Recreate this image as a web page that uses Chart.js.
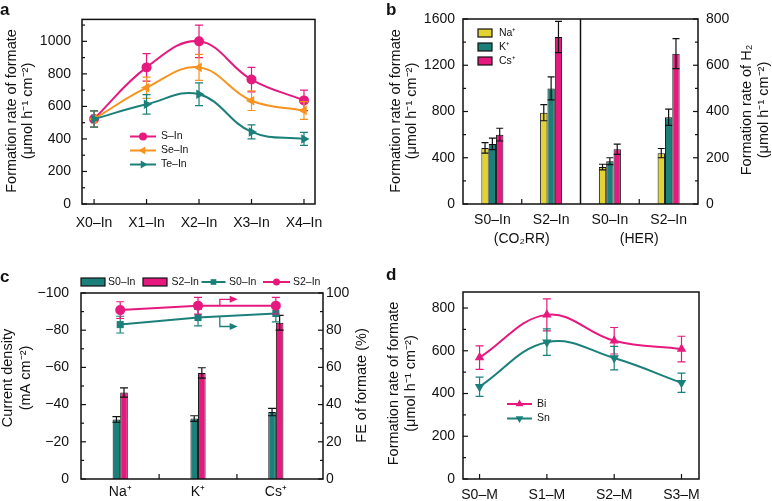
<!DOCTYPE html>
<html>
<head>
<meta charset="utf-8">
<title>Formate formation rates</title>
<script src="https://cdn.jsdelivr.net/npm/chart.js@4.4.1/dist/chart.umd.min.js"></script>
<style>
  html, body { margin: 0; padding: 0; background: #fff; }
  body { position: relative; width: 772px; height: 501px; overflow: hidden; }
  canvas { position: absolute; }
</style>
</head>
<body>
<canvas id="chartA" width="386" height="250" style="left:0;top:0"></canvas>
<canvas id="chartB" width="386" height="250" style="left:386px;top:0"></canvas>
<canvas id="chartC" width="386" height="251" style="left:0;top:250px"></canvas>
<canvas id="chartD" width="386" height="251" style="left:386px;top:250px"></canvas>
<script>
// --- panel a: formation rate vs chalcogen content ---
const catsA = ['X0–In', 'X1–In', 'X2–In', 'X3–In', 'X4–In'];
const sIn = [523, 840, 1000, 765, 637];
const sInErr = [50, 85, 100, 75, 63];
const seIn = [523, 715, 840, 635, 575];
const seInErr = [50, 65, 80, 60, 55];
const teIn = [523, 613, 675, 443, 400];
const teInErr = [50, 60, 70, 43, 40];
const ticksA = [0, 200, 400, 600, 800, 1000];

// --- panel b: cation effect, CO2RR (left axis) and HER (right axis) ---
const catsB = ['S0–In', 'S2–In', 'S0–In', 'S2–In'];
const groupsB = ['(CO₂RR)', '(HER)'];
const ionsB = ['Na⁺', 'K⁺', 'Cs⁺'];
const co2rrNa = [485, 790];   const co2rrNaErr = [45, 70];
const co2rrK = [520, 1000];   const co2rrKErr = [50, 100];
const co2rrCs = [600, 1445];  const co2rrCsErr = [55, 135];
const herNa = [160, 220];     const herNaErr = [12, 20];
const herK = [185, 375];      const herKErr = [15, 35];
const herCs = [237, 650];     const herCsErr = [22, 65];
const ticksB = [0, 400, 800, 1200, 1600];
const ticksB2 = [0, 200, 400, 600, 800];

// --- panel c: current density (bars) and FE (lines) ---
const ionsC = ['Na⁺', 'K⁺', 'Cs⁺'];
const jS0 = [-32, -32.5, -36];    const jS0Err = [1.5, 1.5, 2];
const jS2 = [-46.5, -57, -84];    const jS2Err = [2.5, 2.8, 4];
const feS0 = [83, 86.8, 89];      const feS0Err = [4.5, 4.5, 4.5];
const feS2 = [90.8, 93.2, 93.2];  const feS2Err = [4.5, 4.5, 4.5];
const ticksC = [0, -20, -40, -60, -80, -100];
const ticksC2 = [0, 20, 40, 60, 80, 100];

// --- panel d: Bi / Sn analogues ---
const catsD = ['S0–M', 'S1–M', 'S2–M', 'S3–M'];
const bi = [568, 768, 647, 608];   const biErr = [55, 75, 62, 60];
const sn = [432, 640, 566, 450];   const snErr = [45, 62, 55, 45];
const ticksD = [0, 200, 400, 600, 800];

const PINK = '#E6197F', ORANGE = '#F7931E', TEAL = '#1B8079', YELLOW = '#E3D330', INK = '#111';
const FONT = "'Liberation Sans', Arial, Helvetica, sans-serif";

Chart.defaults.font.family = FONT;
Chart.defaults.font.size = 14;
Chart.defaults.color = INK;

// error bars for a dataset (bars: drawn on top, lines: drawn under the markers)
function drawErrors(chart, meta) {
    const ds = chart.data.datasets[meta.index];
    if (!ds.errors) return;
    const ctx = chart.ctx;
    const ys = chart.scales[meta.yAxisID];
    const cap = (ds.capWidth || 8) / 2;
    ctx.save();
    ctx.strokeStyle = ds.errorColor || ds.borderColor;
    ctx.lineWidth = 1.2;
    meta.data.forEach((el, i) => {
        const p = meta._parsed[i];
        const e = ds.errors[i];
        if (!p || p.y == null || isNaN(p.y) || e == null || isNaN(el.x)) return;
        const y1 = ys.getPixelForValue(p.y + e);
        const y2 = ys.getPixelForValue(p.y - e);
        ctx.beginPath();
        ctx.moveTo(el.x, y1); ctx.lineTo(el.x, y2);
        ctx.moveTo(el.x - cap, y1); ctx.lineTo(el.x + cap, y1);
        ctx.moveTo(el.x - cap, y2); ctx.lineTo(el.x + cap, y2);
        ctx.stroke();
    });
    ctx.restore();
}

function drawMarker(ctx, style, rot, r, x, y) {
    if (Chart.helpers && Chart.helpers.drawPoint) {
        Chart.helpers.drawPoint(ctx, { pointStyle: style, rotation: rot || 0, radius: r, borderWidth: 0 }, x, y);
    } else {
        ctx.beginPath(); ctx.arc(x, y, r, 0, Math.PI * 2); ctx.fill();
    }
}

function drawLegend(ctx, items, size) {
    ctx.font = size + 'px ' + FONT;
    ctx.textBaseline = 'middle';
    ctx.textAlign = 'left';
    items.forEach(it => {
        if (it.kind === 'box') {
            ctx.fillStyle = it.color;
            ctx.fillRect(it.x, it.y - it.h / 2, it.w, it.h);
            ctx.strokeStyle = INK; ctx.lineWidth = 1.2;
            ctx.strokeRect(it.x, it.y - it.h / 2, it.w, it.h);
        } else {
            ctx.strokeStyle = it.color; ctx.lineWidth = 2;
            ctx.beginPath(); ctx.moveTo(it.x, it.y); ctx.lineTo(it.x + it.w, it.y); ctx.stroke();
            ctx.fillStyle = it.color;
            drawMarker(ctx, it.style, it.rot, it.r, it.x + it.w / 2, it.y);
        }
        ctx.fillStyle = INK;
        ctx.fillText(it.label, it.tx, it.y);
    });
}

function drawText(ctx, t) {
    ctx.save();
    ctx.font = (t.bold ? 'bold ' : '') + t.size + 'px ' + FONT;
    ctx.fillStyle = INK;
    ctx.textAlign = t.align || 'center';
    ctx.textBaseline = t.baseline || 'middle';
    ctx.translate(t.x, t.y);
    if (t.rot) ctx.rotate(t.rot * Math.PI / 180);
    ctx.fillText(t.t, 0, 0);
    ctx.restore();
}

// frame, inward ticks, legends, titles
const deco = {
    id: 'deco',
    beforeDatasetDraw(chart, args) { if (args.meta.type === 'line') drawErrors(chart, args.meta); },
    afterDatasetDraw(chart, args) { if (args.meta.type === 'bar') drawErrors(chart, args.meta); },
    afterDraw(chart, args, o) {
        const ctx = chart.ctx, a = chart.chartArea;
        ctx.save();
        ctx.strokeStyle = INK;
        ctx.lineWidth = 1.5;
        ctx.strokeRect(a.left, a.top, a.right - a.left, a.bottom - a.top);

        ctx.lineWidth = 1.2;
        (o.yTicks || []).forEach(t => {
            const s = chart.scales[t.id];
            const vals = s.ticks.map(k => k.value);
            const dir = t.side === 'left' ? 1 : -1;
            const x0 = t.side === 'left' ? a.left : a.right;
            const mark = (v, len) => {
                const y = s.getPixelForValue(v);
                ctx.beginPath(); ctx.moveTo(x0, y); ctx.lineTo(x0 + dir * len, y); ctx.stroke();
            };
            vals.forEach(v => mark(v, 5));
            for (let i = 1; i < vals.length; i++) mark((vals[i - 1] + vals[i]) / 2, 3);
            const step = vals[1] - vals[0];
            const next = vals[vals.length - 1] + step / 2;
            if (next >= Math.min(s.min, s.max) && next <= Math.max(s.min, s.max)) mark(next, 3);
        });
        if (o.xTicks) {
            const s = chart.scales.x;
            o.xTicks.forEach(v => {
                const x = s.getPixelForValue(v);
                ctx.beginPath(); ctx.moveTo(x, a.bottom); ctx.lineTo(x, a.bottom - 5); ctx.stroke();
            });
        }
        if (o.divider != null) {
            const x = chart.scales.x.getPixelForValue(o.divider);
            ctx.lineWidth = 1.5;
            ctx.beginPath(); ctx.moveTo(x, a.top); ctx.lineTo(x, a.bottom); ctx.stroke();
        }
        (o.arrows || []).forEach(ar => {
            const xs = chart.scales.x, ys = chart.scales[ar.axis];
            const x0 = xs.getPixelForValue(ar.x), x1 = xs.getPixelForValue(ar.xTo);
            const y0 = ys.getPixelForValue(ar.yFrom), y1 = ys.getPixelForValue(ar.yTo);
            ctx.strokeStyle = ar.color; ctx.fillStyle = ar.color; ctx.lineWidth = 1.3;
            ctx.beginPath(); ctx.moveTo(x0, y0); ctx.lineTo(x0, y1); ctx.lineTo(x1 - 6, y1); ctx.stroke();
            ctx.beginPath(); ctx.moveTo(x1, y1); ctx.lineTo(x1 - 8, y1 - 3.5); ctx.lineTo(x1 - 8, y1 + 3.5);
            ctx.closePath(); ctx.fill();
        });
        if (o.groupLabels) {
            const g = o.groupLabels;
            g.values.forEach((v, i) => drawText(ctx, { t: g.labels[i], x: chart.scales.x.getPixelForValue(v), y: g.y, size: 14 }));
        }
        if (o.legend) drawLegend(ctx, o.legend.items, o.legend.size);
        (o.texts || []).forEach(t => drawText(ctx, t));
        ctx.restore();
    }
};

// axis boxes get a fixed size so the plot area lands where the layout padding says
function yAxis(pos, min, max, vals, pad, size, fmt, reverse) {
    return {
        type: 'linear', position: pos, min: min, max: max, reverse: !!reverse,
        grid: { display: false, drawTicks: false }, border: { display: false },
        afterBuildTicks: s => { s.ticks = vals.map(v => ({ value: v })); },
        afterFit: s => { s.width = size; },
        ticks: { padding: pad, font: { size: 14 }, callback: fmt || (v => String(v)) }
    };
}

function xLinear(min, max, names, pad, size) {
    return {
        type: 'linear', min: min, max: max, offset: false,
        grid: { display: false, drawTicks: false }, border: { display: false },
        afterBuildTicks: s => { s.ticks = names.map((n, i) => ({ value: i })); },
        afterFit: s => { s.height = size; },
        ticks: { padding: pad, maxRotation: 0, autoSkip: false, font: { size: 14 }, callback: v => names[v] }
    };
}

function lineDs(label, vals, errs, color, style, rot, r, tension, axis) {
    return {
        type: 'line', label: label,
        data: vals.map((v, i) => ({ x: i, y: v })),
        errors: errs, errorColor: color, capWidth: 8,
        borderColor: color, backgroundColor: color, borderWidth: 2,
        pointStyle: style, pointRotation: rot, pointRadius: r, pointBorderWidth: 0,
        pointBackgroundColor: color, tension: tension, yAxisID: axis || 'y'
    };
}

function baseOptions(pad) {
    return {
        responsive: false, animation: false, events: [],
        layout: { padding: pad },
        plugins: { legend: { display: false }, tooltip: { enabled: false } }
    };
}

const titleSize = 14.5;

// ---------- panel a ----------
// plot area: left 82, right 315, top 17, bottom 204
const optA = baseOptions({ left: 37, right: 71, top: 17, bottom: 16 });
optA.scales = {
    x: xLinear(-0.23, 4.21, catsA, 11, 30),
    y: yAxis('left', 0, 1135, ticksA, 11, 45)
};
optA.plugins.deco = {
    yTicks: [{ id: 'y', side: 'left' }],
    xTicks: catsA.map((c, i) => i),
    legend: {
        size: 10.5,
        items: [
            { kind: 'line', label: 'S–In', color: PINK, style: 'circle', r: 4, x: 130, w: 26, y: 136.5, tx: 161 },
            { kind: 'line', label: 'Se–In', color: ORANGE, style: 'triangle', rot: -90, r: 4.5, x: 130, w: 26, y: 150.5, tx: 161 },
            { kind: 'line', label: 'Te–In', color: TEAL, style: 'triangle', rot: 90, r: 4.5, x: 130, w: 26, y: 164.5, tx: 161 }
        ]
    },
    texts: [
        { t: 'a', x: 0, y: 15, size: 17, bold: true, align: 'left', baseline: 'alphabetic' },
        { t: 'Formation rate of formate', x: 12, y: 111, rot: -90, size: titleSize },
        { t: '(μmol h⁻¹ cm⁻²)', x: 28, y: 111, rot: -90, size: titleSize }
    ]
};
new Chart(document.getElementById('chartA'), {
    type: 'line',
    data: {
        datasets: [
            lineDs('Te–In', teIn, teInErr, TEAL, 'triangle', 90, 5.5, 0.4),
            lineDs('Se–In', seIn, seInErr, ORANGE, 'triangle', -90, 5.5, 0.4),
            lineDs('S–In', sIn, sInErr, PINK, 'circle', 0, 5, 0.4)
        ]
    },
    options: optA,
    plugins: [deco]
});

// ---------- panel b ----------
function barB(label, vals, errs, color, axis) {
    return {
        type: 'bar', label: label, data: vals, errors: errs, errorColor: INK, capWidth: 7,
        backgroundColor: color, borderColor: INK, borderWidth: 1, yAxisID: axis,
        categoryPercentage: 0.375, barPercentage: 1, skipNull: true
    };
}
// plot area: left 77, right 312, top 19, bottom 204
const optB = baseOptions({ left: 32, right: 29, top: 19, bottom: 16 });
optB.scales = {
    x: {
        type: 'category', offset: true,
        grid: { display: false, drawTicks: false }, border: { display: false },
        afterFit: s => { s.height = 30; },
        ticks: { padding: 8, maxRotation: 0, autoSkip: false, font: { size: 14 } }
    },
    y: yAxis('left', 0, 1600, ticksB, 8, 45),
    y2: yAxis('right', 0, 800, ticksB2, 8, 45)
};
optB.plugins.deco = {
    yTicks: [{ id: 'y', side: 'left' }, { id: 'y2', side: 'right' }],
    xTicks: [0.5, 2.5],
    divider: 1.5,
    groupLabels: { values: [0.5, 2.5], labels: groupsB, y: 239 },
    legend: {
        size: 10.5,
        items: [
            { kind: 'box', label: ionsB[0], color: YELLOW, x: 92, w: 14, h: 8, y: 33, tx: 113 },
            { kind: 'box', label: ionsB[1], color: TEAL, x: 92, w: 14, h: 8, y: 47, tx: 113 },
            { kind: 'box', label: ionsB[2], color: PINK, x: 92, w: 14, h: 8, y: 61, tx: 113 }
        ]
    },
    texts: [
        { t: 'b', x: 0, y: 15, size: 17, bold: true, align: 'left', baseline: 'alphabetic' },
        { t: 'Formation rate of formate', x: 10, y: 111, rot: -90, size: titleSize },
        { t: '(μmol h⁻¹ cm⁻²)', x: 26, y: 111, rot: -90, size: titleSize },
        { t: 'Formation rate of H₂', x: 361, y: 110, rot: -90, size: titleSize },
        { t: '(μmol h⁻¹ cm⁻²)', x: 377.5, y: 110, rot: -90, size: titleSize }
    ]
};
new Chart(document.getElementById('chartB'), {
    type: 'bar',
    data: {
        labels: catsB,
        datasets: [
            barB(ionsB[0], [...co2rrNa, null, null], [...co2rrNaErr, null, null], YELLOW, 'y'),
            barB(ionsB[1], [...co2rrK, null, null], [...co2rrKErr, null, null], TEAL, 'y'),
            barB(ionsB[2], [...co2rrCs, null, null], [...co2rrCsErr, null, null], PINK, 'y'),
            barB(ionsB[0], [null, null, ...herNa], [null, null, ...herNaErr], YELLOW, 'y2'),
            barB(ionsB[1], [null, null, ...herK], [null, null, ...herKErr], TEAL, 'y2'),
            barB(ionsB[2], [null, null, ...herCs], [null, null, ...herCsErr], PINK, 'y2')
        ]
    },
    options: optB,
    plugins: [deco]
});

// ---------- panel c ----------
function barC(label, vals, errs, color) {
    return {
        type: 'bar', label: label, data: vals.map((v, i) => ({ x: i, y: v })),
        errors: errs, errorColor: INK, capWidth: 8,
        backgroundColor: color, borderColor: INK, borderWidth: 1, yAxisID: 'y',
        categoryPercentage: 0.195, barPercentage: 1
    };
}
// plot area: left 81, right 323, top 43, bottom 229
const optC = baseOptions({ left: 31, right: 23, top: 43, bottom: 2 });
optC.scales = {
    x: xLinear(-0.504, 2.606, ionsC, 5, 20),
    y: yAxis('left', -100, 0, ticksC, 12, 50, v => v === 0 ? '0' : '−' + Math.abs(v), true),
    y2: yAxis('right', 0, 100, ticksC2, 3, 40)
};
optC.plugins.deco = {
    yTicks: [{ id: 'y', side: 'left' }, { id: 'y2', side: 'right' }],
    xTicks: [0.5, 1.5],
    arrows: [
        { color: PINK, axis: 'y2', x: 1.28, yFrom: 93.4, yTo: 96.6, xTo: 1.51 },
        { color: TEAL, axis: 'y2', x: 1.28, yFrom: 87.2, yTo: 82, xTo: 1.51 }
    ],
    legend: {
        size: 10.5,
        items: [
            { kind: 'box', label: 'S0–In', color: TEAL, x: 81, w: 24, h: 8, y: 32, tx: 108 },
            { kind: 'box', label: 'S2–In', color: PINK, x: 143, w: 24, h: 8, y: 32, tx: 171.5 },
            { kind: 'line', label: 'S0–In', color: TEAL, style: 'rect', r: 4, x: 201.5, w: 24, y: 32, tx: 229 },
            { kind: 'line', label: 'S2–In', color: PINK, style: 'circle', r: 3.5, x: 263, w: 27, y: 32, tx: 293 }
        ]
    },
    texts: [
        { t: 'c', x: 0, y: 32, size: 17, bold: true, align: 'left', baseline: 'alphabetic' },
        { t: 'Current density', x: 8, y: 128, rot: -90, size: titleSize },
        { t: '(mA cm⁻²)', x: 26, y: 128, rot: -90, size: titleSize },
        { t: 'FE of formate (%)', x: 362, y: 135.5, rot: -90, size: titleSize }
    ]
};
new Chart(document.getElementById('chartC'), {
    type: 'bar',
    data: {
        datasets: [
            lineDs('S2–In', feS2, feS2Err, PINK, 'circle', 0, 5, 0, 'y2'),
            lineDs('S0–In', feS0, feS0Err, TEAL, 'rect', 0, 5, 0, 'y2'),
            barC('S0–In', jS0, jS0Err, TEAL),
            barC('S2–In', jS2, jS2Err, PINK)
        ]
    },
    options: optC,
    plugins: [deco]
});

// ---------- panel d ----------
// plot area: left 77, right 313, top 42, bottom 229
const optD = baseOptions({ left: 32, right: 73, top: 42, bottom: 2 });
optD.scales = {
    x: xLinear(-0.246, 3.26, catsD, 8, 20),
    y: yAxis('left', 0, 875, ticksD, 8, 45)
};
optD.plugins.deco = {
    yTicks: [{ id: 'y', side: 'left' }],
    xTicks: catsD.map((c, i) => i),
    legend: {
        size: 10.5,
        items: [
            { kind: 'line', label: 'Bi', color: PINK, style: 'triangle', rot: 0, r: 4.5, x: 121, w: 25, y: 154, tx: 151 },
            { kind: 'line', label: 'Sn', color: TEAL, style: 'triangle', rot: 180, r: 4.5, x: 121, w: 25, y: 168.5, tx: 151 }
        ]
    },
    texts: [
        { t: 'd', x: 0, y: 30, size: 17, bold: true, align: 'left', baseline: 'alphabetic' },
        { t: 'Formation rate of formate', x: 8, y: 133.5, rot: -90, size: titleSize },
        { t: '(μmol h⁻¹ cm⁻²)', x: 25, y: 133.5, rot: -90, size: titleSize }
    ]
};
new Chart(document.getElementById('chartD'), {
    type: 'line',
    data: {
        datasets: [
            lineDs('Sn', sn, snErr, TEAL, 'triangle', 180, 5.5, 0.4),
            lineDs('Bi', bi, biErr, PINK, 'triangle', 0, 5.5, 0.4)
        ]
    },
    options: optD,
    plugins: [deco]
});
</script>
</body>
</html>
